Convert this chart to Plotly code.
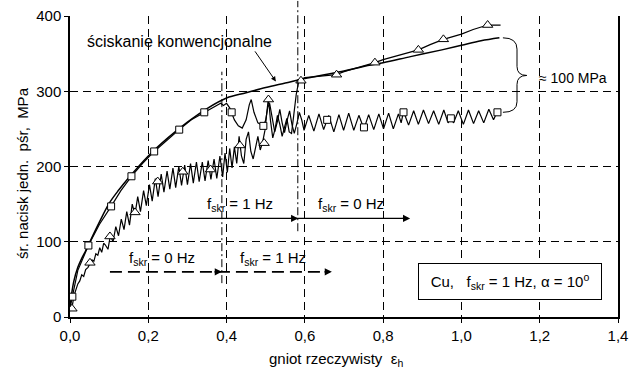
import plotly.graph_objects as go

# ---------------- data ----------------
x_tick_vals = [0.0, 0.2, 0.4, 0.6, 0.8, 1.0, 1.2, 1.4]
x_tick_text = ["0,0", "0,2", "0,4", "0,6", "0,8", "1,0", "1,2", "1,4"]
y_tick_vals = [0, 100, 200, 300, 400]
y_tick_text = ["0", "100", "200", "300", "400"]

# conventional compression (smooth)
conv_x = [0.0, 0.004, 0.01, 0.02, 0.03, 0.04, 0.05, 0.075, 0.1, 0.125, 0.15, 0.2, 0.25, 0.3,
          0.35, 0.4, 0.45, 0.5, 0.55, 0.6, 0.65, 0.7, 0.75, 0.8, 0.87, 0.95, 1.0, 1.05, 1.097]
conv_y = [12, 30, 48, 66, 78, 88, 99, 126, 151, 169, 185, 214, 238, 259,
          277, 291, 298, 305, 311, 317, 322, 327, 333, 338, 346, 355, 361, 367, 371]

# squares series: f=0 Hz up to ~0.39, then f=1 Hz
sq_x = [0.0, 0.006, 0.02, 0.047, 0.075, 0.105, 0.13, 0.157, 0.185, 0.215, 0.25, 0.279, 0.31,
        0.343, 0.37, 0.385, 0.392, 0.400, 0.408, 0.413, 0.420, 0.430, 0.440, 0.450, 0.458,
        0.463, 0.470, 0.480, 0.494, 0.500, 0.505, 0.510, 0.517, 0.523, 0.530, 0.536, 0.542,
        0.548, 0.555, 0.561, 0.567, 0.573, 0.580, 0.586, 0.592, 0.598, 0.610, 0.623, 0.636,
        0.648, 0.661, 0.674, 0.687, 0.699, 0.712, 0.725, 0.738, 0.751, 0.763, 0.776, 0.789,
        0.801, 0.814, 0.826, 0.839, 0.846, 0.852, 0.865, 0.878, 0.890, 0.903, 0.916, 0.929,
        0.942, 0.955, 0.966, 0.973, 0.980, 0.992, 1.005, 1.018, 1.031, 1.044, 1.057, 1.070,
        1.082, 1.092]
sq_y = [12, 27, 62, 95, 123, 147, 168, 187, 204, 220, 236, 249, 262,
        272, 280, 284, 281, 284, 278, 272, 262, 254, 251, 262, 282,
        289, 272, 258, 254, 262, 278, 284, 262, 246, 260, 276, 258,
        245, 262, 274, 256, 244, 258, 272, 262, 248, 268, 247, 270,
        249, 268, 246, 269, 248, 271, 248, 268, 250, 269, 249, 270,
        250, 271, 250, 270, 258, 273, 255, 274, 256, 275, 257, 274,
        256, 275, 258, 265, 258, 274, 256, 275, 257, 274, 258, 276,
        262, 273]
sq_mark_x = [0.006, 0.047, 0.105, 0.157, 0.215, 0.279, 0.343, 0.413, 0.494, 0.657, 0.751, 0.852, 0.973, 1.092]
sq_mark_y = [27, 95, 147, 187, 220, 249, 272, 272, 254, 262, 252, 272, 264, 272]

# triangles series: f=1 Hz up to ~0.58, then f=0 Hz
tri_x = [0.000, 0.005, 0.010, 0.015, 0.020, 0.025, 0.030, 0.035, 0.040, 0.046, 0.051, 0.056,
         0.061, 0.066, 0.071, 0.076, 0.081, 0.086, 0.090, 0.097, 0.103, 0.110, 0.117, 0.124,
         0.131, 0.138, 0.145, 0.152, 0.159, 0.166, 0.173, 0.180, 0.188, 0.195, 0.203, 0.210,
         0.218, 0.225, 0.233, 0.240, 0.248, 0.255, 0.263, 0.270, 0.278, 0.285, 0.293, 0.300,
         0.308, 0.315, 0.323, 0.330, 0.338, 0.345, 0.353, 0.360, 0.368, 0.375, 0.383,
         0.390, 0.396, 0.402, 0.408, 0.414, 0.420, 0.426, 0.432, 0.438, 0.444, 0.450, 0.456,
         0.462, 0.468, 0.474, 0.480, 0.486, 0.492, 0.498, 0.503, 0.507, 0.512, 0.518, 0.524,
         0.530, 0.536, 0.542, 0.548, 0.554, 0.560, 0.566, 0.572, 0.578, 0.584, 0.590, 0.600,
         0.650, 0.680, 0.700, 0.750, 0.779, 0.800, 0.850, 0.890, 0.920, 0.954, 1.000, 1.030,
         1.067, 1.100]
tri_y = [8, 12, 28, 36, 44, 48, 56, 54, 63, 66, 72, 76,
         74, 84, 82, 92, 86, 98, 96, 90, 108, 100, 120, 108,
         130, 116, 140, 122, 150, 136, 160, 140, 168, 148, 176, 154,
         184, 160, 190, 166, 194, 170, 198, 172, 200, 175, 202, 176,
         204, 178, 206, 180, 206, 181, 208, 183, 210, 184, 214,
         186, 218, 192, 224, 198, 226, 204, 240, 214, 204, 236, 246,
         220, 210, 224, 240, 222, 232, 248, 270, 292, 262, 238, 250,
         268, 256, 240, 252, 264, 246, 244, 270, 296, 312, 316, 318,
         320, 322, 326, 333, 338, 342, 349, 355, 362, 369, 376, 382,
         388, 388]
tri_mark_x = [0.005, 0.051, 0.102, 0.166, 0.224, 0.288, 0.359, 0.434, 0.496, 0.507, 0.590, 0.681, 0.779, 0.890, 0.954, 1.067]
tri_mark_y = [11, 72, 107, 139, 180, 193, 196, 228, 231, 289, 314, 322, 338, 355, 369, 388]

# ---------------- figure ----------------
fig = go.Figure()
LINE = dict(color="black", width=1.2)

fig.add_trace(go.Scatter(x=conv_x, y=conv_y, mode="lines", line=dict(color="black", width=1.5),
                         line_shape="spline", showlegend=False, hoverinfo="skip"))
fig.add_trace(go.Scatter(x=sq_x, y=sq_y, mode="lines", line=LINE, showlegend=False, hoverinfo="skip"))
fig.add_trace(go.Scatter(x=tri_x, y=tri_y, mode="lines", line=LINE, showlegend=False, hoverinfo="skip"))
fig.add_trace(go.Scatter(x=sq_mark_x, y=sq_mark_y, mode="markers", showlegend=False, hoverinfo="skip",
                         marker=dict(symbol="square", size=7, color="white", line=dict(color="black", width=1))))
fig.add_trace(go.Scatter(x=tri_mark_x, y=tri_mark_y, mode="markers", showlegend=False, hoverinfo="skip",
                         marker=dict(symbol="triangle-up", size=9, color="white", line=dict(color="black", width=1))))

FONT = "Liberation Sans, Arial, sans-serif"
shapes = []
# dash-dot vertical lines
shapes.append(dict(type="line", xref="x", yref="y", x0=0.388, x1=0.388, y0=45, y1=326,
                   line=dict(color="black", width=1, dash="8px,3px,2px,3px")))
shapes.append(dict(type="line", xref="x", yref="paper", x0=0.582, x1=0.582, y0=0.285, y1=1.05,
                   line=dict(color="black", width=1, dash="8px,3px,2px,3px")))
# solid arrow line
shapes.append(dict(type="line", xref="x", yref="y", x0=0.302, x1=0.862, y0=131, y1=131,
                   line=dict(color="black", width=1.3)))
# dashed arrow line
shapes.append(dict(type="line", xref="x", yref="y", x0=0.102, x1=0.662, y0=60, y1=60,
                   line=dict(color="black", width=1.6, dash="12px,6px")))
# brace
shapes.append(dict(type="path", xref="x", yref="y",
                   path="M 1.106,371 Q 1.142,371 1.142,356 L 1.142,333 Q 1.142,321 1.167,321 "
                        "Q 1.142,321 1.142,309 L 1.142,286 Q 1.142,272 1.106,272",
                   line=dict(color="black", width=1)))

ann = []
def txt(x, y, t, size=15, **kw):
    d = dict(x=x, y=y, xref="x", yref="y", text=t, showarrow=False,
             font=dict(family=FONT, size=size, color="black"))
    d.update(kw)
    ann.append(d)

def head(x, y):
    ann.append(dict(x=x, y=y, xref="x", yref="y", ax=-9, ay=0, text="", showarrow=True,
                    arrowhead=2, arrowsize=1.1, arrowwidth=1.3, arrowcolor="black", standoff=0))

txt(0.2785, 366.7, "ściskanie konwencjonalne", size=16)
ann.append(dict(x=0.526, y=313, ax=0.470, ay=355, xref="x", yref="y", axref="x", ayref="y",
                text="", showarrow=True, arrowhead=2, arrowsize=1, arrowwidth=1, arrowcolor="black",
                standoff=0))
txt(0.434, 149, "f<sub>skr</sub> = 1 Hz")
txt(0.718, 149, "f<sub>skr</sub> = 0 Hz")
txt(0.234, 78, "f<sub>skr</sub> = 0 Hz")
txt(0.519, 78, "f<sub>skr</sub> = 1 Hz")
txt(1.192, 318, "≈ 100 MPa", size=14, xanchor="left")
head(0.583, 131)
head(0.869, 131)
head(0.388, 60)
head(0.669, 60)
ann.append(dict(x=1.124, y=47.6, xref="x", yref="y", showarrow=False,
                text="Cu,\u00a0\u00a0 f<sub>skr</sub> = 1 Hz, α = 10<sup>o</sup>",
                font=dict(family=FONT, size=15, color="black"),
                bordercolor="black", borderwidth=1, borderpad=4, bgcolor="white",
                width=174, height=27))
# axis titles
ann.append(dict(x=-0.106, y=0.48, xref="paper", yref="paper", showarrow=False, textangle=-90,
                text="śr. nacisk jedn.\u00a0 pśr,\u00a0 MPa",
                font=dict(family=FONT, size=15, color="black")))
ann.append(dict(x=0.485, y=-0.14, xref="paper", yref="paper", showarrow=False, yanchor="middle",
                text="gniot rzeczywisty\u00a0 ε<sub>h</sub>",
                font=dict(family=FONT, size=15, color="black")))

fig.update_layout(
    width=630, height=376,
    margin=dict(l=70, r=12, t=16, b=59, autoexpand=False),
    paper_bgcolor="white", plot_bgcolor="white",
    font=dict(family=FONT, size=15, color="black"),
    shapes=shapes, annotations=ann,
    xaxis=dict(range=[0, 1.4], tickvals=x_tick_vals, ticktext=x_tick_text, automargin=False,
               showgrid=True, gridcolor="black", gridwidth=1, griddash="8px,5px",
               showline=True, linecolor="black", linewidth=1.5, mirror=False,
               ticks="outside", ticklen=4, tickcolor="black", zeroline=False,
               tickfont=dict(family=FONT, size=15, color="black")),
    yaxis=dict(range=[0, 400], tickvals=y_tick_vals, ticktext=y_tick_text, automargin=False,
               showgrid=True, gridcolor="black", gridwidth=1, griddash="8px,5px",
               showline=True, linecolor="black", linewidth=1.5, mirror=True,
               ticks="outside", ticklen=4, tickcolor="black", zeroline=False,
               tickfont=dict(family=FONT, size=15, color="black")),
)

fig.write_html("out.html", config={"displayModeBar": False},
               post_script="document.body.style.margin='0';document.body.style.overflow='hidden';")
